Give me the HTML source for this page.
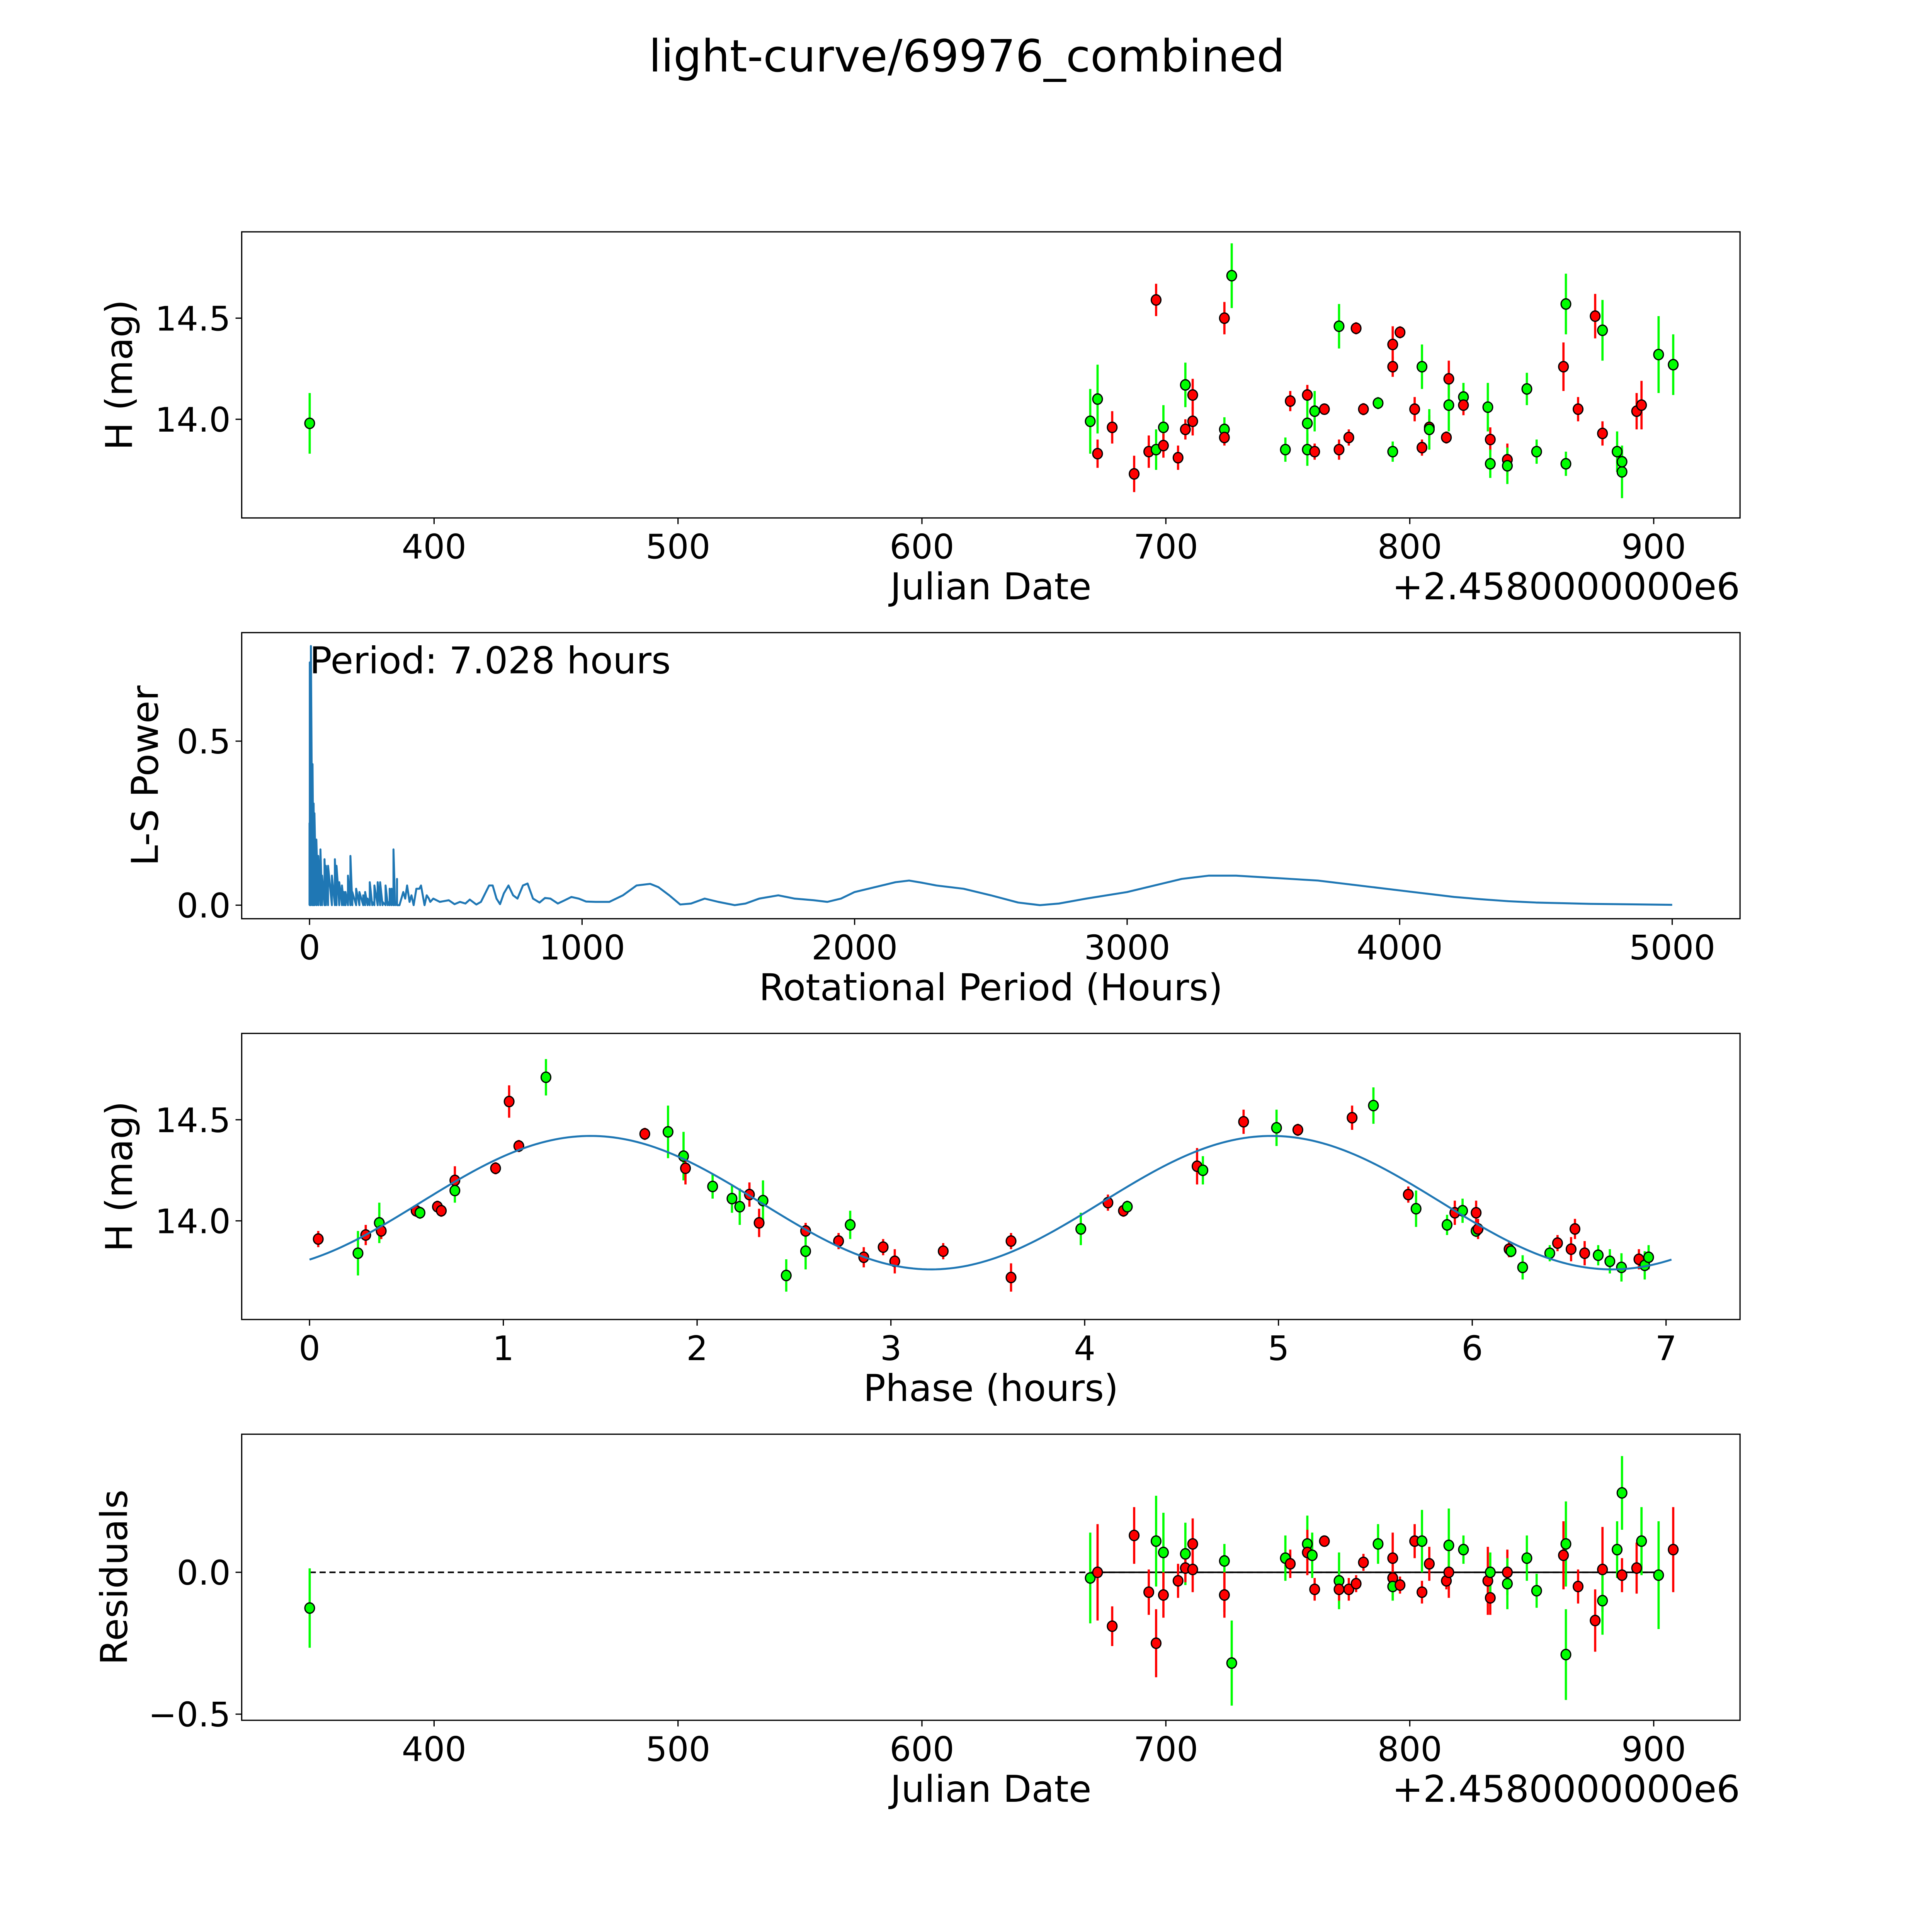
<!DOCTYPE html>
<html><head><meta charset="utf-8"><style>
html,body{margin:0;padding:0;background:#fff;overflow:hidden;}
svg{display:block;font-family:"DejaVu Sans","Liberation Sans",sans-serif;}
</style></head><body>
<svg id="fig" width="5400" height="5400" viewBox="0 0 1692 1692" xmlns="http://www.w3.org/2000/svg">
<rect width="1692" height="1692" fill="#fff"/>
<text x="784" y="58" font-size="36" text-anchor="middle">light-curve/69976_combined</text>
</svg>
<script>
// ---- Panel 1: light curve (JD offset, mag, err, band) ----
const jd1 = [349,669,672,672,678,687,693,696,696,699,699,705,708,708,711,711,724,724,724,727,749,751,758,758,758,761,761,765,771,771,775,778,781,787,793,793,793,796,802,805,805,808,808,815,816,816,822,822,832,833,833,840,840,848,852,863,864,864,869,876,879,879,885,887,887,893,895,902,908];
const mag1 = [13.98,13.99,14.10,13.83,13.96,13.73,13.84,14.59,13.85,13.96,13.87,13.81,14.17,13.95,14.12,13.99,14.50,13.95,13.91,14.71,13.85,14.09,14.12,13.98,13.85,14.04,13.84,14.05,14.46,13.85,13.91,14.45,14.05,14.08,14.37,14.26,13.84,14.43,14.05,14.26,13.86,13.96,13.95,13.91,14.20,14.07,14.11,14.07,14.06,13.90,13.78,13.80,13.77,14.15,13.84,14.26,14.57,13.78,14.05,14.51,14.44,13.93,13.84,13.74,13.79,14.04,14.07,14.32,14.27];
const err1 = [0.15,0.16,0.17,0.07,0.08,0.09,0.08,0.08,0.10,0.11,0.06,0.06,0.11,0.05,0.08,0.07,0.08,0.06,0.04,0.16,0.06,0.05,0.05,0.12,0.08,0.10,0.04,0.02,0.11,0.05,0.04,0.03,0.03,0.03,0.09,0.05,0.05,0.03,0.06,0.11,0.04,0.06,0.10,0.03,0.09,0.13,0.07,0.05,0.12,0.06,0.07,0.08,0.09,0.08,0.06,0.12,0.15,0.06,0.06,0.11,0.15,0.06,0.10,0.13,0.06,0.09,0.12,0.19,0.15];
const band1 = "GGGRRRRRGGRRGRRRRGRGGRRGGGRRGRRRRGRRGRRGRRGRRGGRGRGRGGGRGGRRGRGGGRRGGR";
// ---- Panel 2: periodogram ----
const spikeP = [0,1,5,11,15,18,25,32,40,46,55,60,68,82,93,99,109,119,126,132,141,150,157,171,183,197,204,213,221,230,238,250,259,268,279,287,294,301,308,314,321];
const spikePow = [0.25,0.74,0.79,0.43,0.31,0.28,0.20,0.15,0.17,0.09,0.14,0.12,0.12,0.09,0.14,0.12,0.07,0.06,0.04,0.04,0.09,0.15,0.04,0.05,0.04,0.03,0.04,0.02,0.07,0.01,0.06,0.07,0.07,0.01,0.06,0.01,0.05,0.05,0.17,0.01,0.08];
const smoothP = [330,337,344,351,358,367,374,382,392,403,409,422,430,438,443,454,478,511,532,552,572,588,612,629,659,672,686,699,713,730,747,763,783,800,820,844,864,884,911,934,961,988,1015,1050,1100,1150,1200,1250,1280,1320,1360,1400,1450,1500,1560,1600,1650,1720,1780,1850,1900,1950,2000,2050,2100,2150,2200,2250,2300,2400,2500,2600,2680,2750,2850,3000,3100,3200,3300,3400,3500,3600,3700,3800,3900,4000,4100,4200,4300,4400,4500,4700,5000];
const smoothPow = [0.0,0.02,0.04,0.02,0.06,0.01,0.03,0.0,0.05,0.05,0.06,0.0,0.03,0.02,0.01,0.02,0.01,0.015,0.003,0.01,0.005,0.017,0.002,0.01,0.06,0.06,0.02,0.003,0.036,0.06,0.03,0.02,0.06,0.066,0.02,0.008,0.022,0.02,0.005,0.014,0.025,0.02,0.011,0.01,0.01,0.03,0.06,0.065,0.055,0.03,0.002,0.005,0.02,0.01,0.0,0.005,0.02,0.03,0.02,0.015,0.01,0.02,0.04,0.05,0.06,0.07,0.075,0.068,0.06,0.05,0.03,0.008,0.0,0.005,0.02,0.04,0.06,0.08,0.09,0.09,0.085,0.08,0.075,0.065,0.055,0.045,0.035,0.025,0.018,0.012,0.008,0.004,0.001];
// ---- Panel 3: phased ----
const phase3 = [0.045,0.25,0.29,0.36,0.37,0.55,0.57,0.66,0.68,0.75,0.75,0.96,1.03,1.08,1.22,1.73,1.85,1.93,1.94,2.08,2.18,2.22,2.27,2.32,2.34,2.46,2.56,2.56,2.73,2.79,2.86,2.96,3.02,3.27,3.62,3.62,3.98,4.12,4.20,4.22,4.58,4.61,4.82,4.99,5.10,5.38,5.49,5.67,5.71,5.87,5.91,5.95,6.02,6.02,6.03,6.19,6.20,6.26,6.40,6.44,6.51,6.53,6.58,6.65,6.71,6.77,6.86,6.89,6.91];
const mag3 = [13.91,13.84,13.93,13.99,13.95,14.05,14.04,14.07,14.05,14.20,14.15,14.26,14.59,14.37,14.71,14.43,14.44,14.32,14.26,14.17,14.11,14.07,14.13,13.99,14.10,13.73,13.95,13.85,13.90,13.98,13.82,13.87,13.80,13.85,13.90,13.72,13.96,14.09,14.05,14.07,14.27,14.25,14.49,14.46,14.45,14.51,14.57,14.13,14.06,13.98,14.04,14.05,14.04,13.95,13.96,13.86,13.85,13.77,13.84,13.89,13.86,13.96,13.84,13.83,13.80,13.77,13.81,13.78,13.82];
const err3 = [0.04,0.11,0.05,0.10,0.04,0.03,0.03,0.03,0.03,0.07,0.06,0.03,0.08,0.03,0.09,0.03,0.13,0.12,0.08,0.06,0.07,0.09,0.06,0.07,0.10,0.08,0.04,0.09,0.04,0.07,0.05,0.04,0.06,0.04,0.04,0.07,0.08,0.04,0.03,0.03,0.09,0.07,0.06,0.09,0.03,0.06,0.09,0.04,0.09,0.05,0.06,0.06,0.06,0.03,0.05,0.04,0.03,0.06,0.04,0.04,0.06,0.05,0.06,0.05,0.06,0.07,0.05,0.07,0.06];
const band3 = "RGRGRRGRRRGRRRGRGGRGGGRRGGRGRGRRRRRRGRRGRGRGRRGRGGRGRGRRGGGRRRRGGGRGG";
// ---- Panel 4: residuals ----
const jd4 = [349,669,672,678,687,693,696,696,699,699,705,708,708,711,711,724,724,724,727,749,751,758,758,760,761,765,771,771,775,778,781,787,793,793,793,796,802,805,805,808,815,816,816,822,832,833,833,840,840,848,852,863,864,864,869,876,879,879,885,887,887,893,895,902,908];
const res4 = [-0.126,-0.02,0.0,-0.19,0.13,-0.07,-0.25,0.11,0.07,-0.08,-0.03,0.065,0.015,0.01,0.10,-0.08,0.04,-0.08,-0.32,0.05,0.03,0.10,0.07,0.06,-0.06,0.11,-0.03,-0.06,-0.06,-0.04,0.035,0.10,0.05,-0.02,-0.05,-0.045,0.11,0.11,-0.07,0.03,-0.03,0.0,0.095,0.08,-0.03,-0.09,0.0,0.0,-0.04,0.05,-0.065,0.06,0.10,-0.29,-0.05,-0.17,0.01,-0.10,0.08,0.28,-0.01,0.015,0.11,-0.01,0.08];
const err4 = [0.14,0.16,0.17,0.07,0.10,0.08,0.12,0.16,0.14,0.08,0.06,0.11,0.05,0.08,0.09,0.06,0.06,0.08,0.15,0.08,0.05,0.10,0.08,0.08,0.04,0.02,0.10,0.04,0.04,0.03,0.03,0.07,0.09,0.08,0.05,0.03,0.06,0.11,0.04,0.06,0.03,0.09,0.13,0.05,0.12,0.06,0.07,0.08,0.09,0.08,0.06,0.12,0.15,0.16,0.06,0.11,0.15,0.12,0.10,0.13,0.06,0.09,0.12,0.19,0.15];
const band4 = "GGRRRRRGGRRGRRRRGRGGRGRGRRGRRRRGRRGRRGRRRRGGRRGRGGGRGGRRRGGGRRGGR";
// fit model parameters
const fitPeriod = 7.028, fitMean = 14.09, fitAmp = 0.33, fitPeak = 1.45;

const NS = "http://www.w3.org/2000/svg";
const svg = document.getElementById('fig');
function mk(tag, attrs, parent) {
  const e = document.createElementNS(NS, tag);
  for (const k in attrs) e.setAttribute(k, attrs[k]);
  (parent || svg).appendChild(e);
  return e;
}
const L = 196, R = 1411;
const COL = {G: '#00ff00', R: '#ff0000'};
const TF = 27.5, LF = 30;
function lin(d0, d1, p0, p1) { return v => p0 + (v - d0) * (p1 - p0) / (d1 - d0); }

function axes(name, top, bot, xs, ys, xt, yt, xlabel, ylabel, ylx, offsetText) {
  const g = mk('g', {});
  
  
  xt.forEach(t => {
    const x = xs(t.v);
    const tk = mk('line', {x1: x, x2: x, y1: bot, y2: bot + 5, stroke: '#000', 'stroke-width': 1}, g);
    
    
    const tx = mk('text', {x: x, y: bot + 33, 'font-size': TF, 'text-anchor': 'middle'}, g);
    
    
    tx.textContent = t.s;
  });
  yt.forEach(t => {
    const y = ys(t.v);
    const tk = mk('line', {x1: L - 5, x2: L, y1: y, y2: y, stroke: '#000', 'stroke-width': 1}, g);
    
    
    const tx = mk('text', {x: L - 9, y: y + 10, 'font-size': TF, 'text-anchor': 'end'}, g);
    
    
    tx.textContent = t.s;
  });
  const xl = mk('text', {x: (L + R) / 2, y: bot + 66, 'font-size': LF, 'text-anchor': 'middle'}, g);
  
  
  xl.textContent = xlabel;
  const cy = (top + bot) / 2;
  const yl = mk('text', {x: ylx, y: cy, 'font-size': LF, 'text-anchor': 'middle', transform: 'rotate(-90 ' + ylx + ' ' + cy + ')'}, g);
  
  
  yl.textContent = ylabel;
  if (offsetText) {
    const ot = mk('text', {x: R, y: bot + 66, 'font-size': LF, 'text-anchor': 'end'}, g);
    
    
    ot.textContent = offsetText;
  }
  return g;
}
function frame(top, bot) {
  const f = mk('rect', {x: L, y: top, width: R - L, height: bot - top, fill: 'none', stroke: '#000', 'stroke-width': 1});
  
  
}
function scatter(name, xsArr, ysArr, errArr, bands, xs, ys) {
  const g = mk('g', {});
  
  
  xsArr.forEach((v, i) => {
    const c = COL[bands[i]] || '#00ff00';
    const x = xs(v);
    const eb = mk('line', {x1: x, x2: x, y1: ys(ysArr[i] - errArr[i]), y2: ys(ysArr[i] + errArr[i]), stroke: c, 'stroke-width': 1.8}, g);
    
    
  });
  xsArr.forEach((v, i) => {
    const c = COL[bands[i]] || '#00ff00';
    const pt = mk('ellipse', {cx: xs(v), cy: ys(ysArr[i]), rx: 3.9, ry: 4.2, fill: c, stroke: '#000', 'stroke-width': 1}, g);
    
    
  });
}
const jdTicks = [400, 500, 600, 700, 800, 900].map(v => ({v: v, s: String(v)}));

// Panel 1
{
  const top = 188, bot = 420;
  const xs = lin(400, 900, 352, 1341), ys = lin(14.0, 14.5, 340, 258);
  axes('lightcurve-axes', top, bot, xs, ys, jdTicks, [{v: 14.0, s: '14.0'}, {v: 14.5, s: '14.5'}], 'Julian Date', 'H (mag)', 107, '+2.4580000000e6');
  scatter('lightcurve-points', jd1, mag1, err1, band1, xs, ys);
  frame(top, bot);
}
// Panel 2
{
  const top = 513, bot = 745;
  const xs = lin(0, 5000, 251, 1356), ys = lin(0, 0.5, 734, 601);
  axes('periodogram-axes', top, bot, xs, ys, [0, 1000, 2000, 3000, 4000, 5000].map(v => ({v: v, s: String(v)})), [{v: 0, s: '0.0'}, {v: 0.5, s: '0.5'}], 'Rotational Period (Hours)', 'L-S Power', 128);
  let pts = [];
  spikeP.forEach((p, i) => {
    pts.push(xs(p) + ',' + ys(0));
    pts.push(xs(p) + ',' + ys(spikePow[i]));
  });
  pts.push(xs(spikeP[spikeP.length - 1]) + ',' + ys(0));
  smoothP.forEach((p, i) => pts.push(xs(p) + ',' + ys(smoothPow[i])));
  const pl = mk('polyline', {points: pts.join(' '), fill: 'none', stroke: '#1f77b4', 'stroke-width': 1.6, 'stroke-linejoin': 'round'});
  
  
  const ann = mk('text', {x: 251, y: 546, 'font-size': LF});
  
  
  ann.textContent = 'Period: ' + fitPeriod.toFixed(3) + ' hours';
  frame(top, bot);
}
// Panel 3
{
  const top = 838, bot = 1070;
  const xs = lin(0, 7, 251, 1351), ys = lin(14.0, 14.5, 990, 908);
  axes('phased-axes', top, bot, xs, ys, [0, 1, 2, 3, 4, 5, 6, 7].map(v => ({v: v, s: String(v)})), [{v: 14.0, s: '14.0'}, {v: 14.5, s: '14.5'}], 'Phase (hours)', 'H (mag)', 107);
  scatter('phased-points', phase3, mag3, err3, band3, xs, ys);
  let pts = [];
  for (let i = 0; i <= 300; i++) {
    const t = fitPeriod * i / 300;
    const m = fitMean + fitAmp * Math.cos(2 * Math.PI * (t - fitPeak) / (fitPeriod / 2));
    pts.push(xs(t).toFixed(2) + ',' + ys(m).toFixed(2));
  }
  const fl = mk('polyline', {points: pts.join(' '), fill: 'none', stroke: '#1f77b4', 'stroke-width': 1.6});
  
  
  frame(top, bot);
}
// Panel 4
{
  const top = 1163, bot = 1395;
  const xs = lin(400, 900, 352, 1341), ys = lin(0, -0.5, 1275, 1390);
  axes('residuals-axes', top, bot, xs, ys, jdTicks, [{v: 0, s: '0.0'}, {v: -0.5, s: '\u22120.5'}], 'Julian Date', 'Residuals', 103, '+2.4580000000e6');
  const zl = mk('line', {x1: xs(349), x2: xs(902), y1: ys(0), y2: ys(0), stroke: '#000', 'stroke-width': 1.3, 'stroke-dasharray': '5,3'});
  
  
  const sl = mk('line', {x1: xs(669), x2: xs(902), y1: ys(0), y2: ys(0), stroke: '#000', 'stroke-width': 1.3});
  
  
  scatter('residual-points', jd4, res4, err4, band4, xs, ys);
  frame(top, bot);
}
</script>
</body></html>
